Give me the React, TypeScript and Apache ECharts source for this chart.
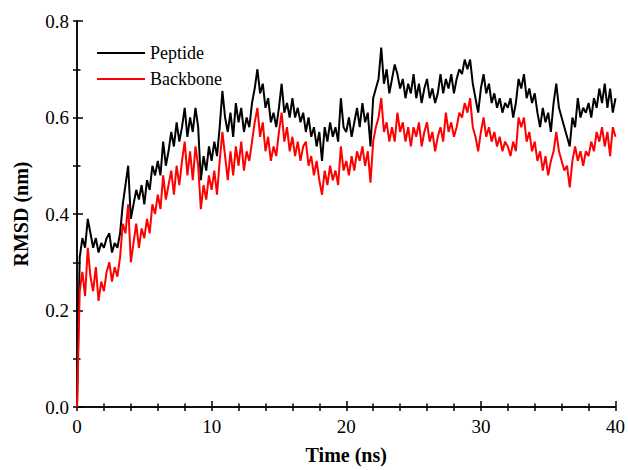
import React, { useEffect, useRef } from "react";
import * as echarts from "echarts";

// Time step between samples (ns)
const timeStep = 0.2;

// Peptide RMSD (nm), sampled every 0.2 ns from 0 to 40 ns
const peptide = [
  0.00, 0.31, 0.35, 0.33, 0.39,
  0.36, 0.33, 0.35, 0.32, 0.34,
  0.33, 0.35, 0.36, 0.32, 0.34,
  0.33, 0.36, 0.42, 0.46, 0.50,
  0.39, 0.42, 0.45, 0.43, 0.46,
  0.42, 0.47, 0.45, 0.50, 0.48,
  0.51, 0.48, 0.55, 0.50, 0.53,
  0.57, 0.54, 0.59, 0.55, 0.58,
  0.62, 0.56, 0.60, 0.57, 0.62,
  0.58, 0.47, 0.52, 0.49, 0.54,
  0.51, 0.55, 0.52, 0.58, 0.655,
  0.60, 0.57, 0.61, 0.56, 0.63,
  0.59, 0.62, 0.57, 0.60, 0.58,
  0.63, 0.66, 0.70, 0.65, 0.67,
  0.62, 0.64, 0.59, 0.61, 0.58,
  0.62, 0.67, 0.61, 0.63, 0.60,
  0.64, 0.60, 0.62, 0.59, 0.61,
  0.57, 0.60, 0.56, 0.58, 0.54,
  0.57, 0.51, 0.58, 0.55, 0.59,
  0.56, 0.58, 0.55, 0.64, 0.58,
  0.57, 0.60, 0.56, 0.59, 0.62,
  0.58, 0.63, 0.59, 0.61, 0.54,
  0.64, 0.66, 0.68, 0.745, 0.67,
  0.70, 0.65, 0.68, 0.71, 0.69,
  0.66, 0.68, 0.64, 0.67, 0.65,
  0.69, 0.64, 0.67, 0.63, 0.66,
  0.68, 0.64, 0.66, 0.63, 0.65,
  0.69, 0.65, 0.68, 0.66, 0.69,
  0.65, 0.68, 0.70, 0.69, 0.72,
  0.70, 0.72, 0.67, 0.64, 0.61,
  0.66, 0.69, 0.65, 0.67, 0.63,
  0.65, 0.62, 0.64, 0.61, 0.63,
  0.62, 0.64, 0.60, 0.63, 0.68,
  0.66, 0.69, 0.64, 0.66, 0.63,
  0.65, 0.61, 0.58, 0.62, 0.59,
  0.61, 0.57, 0.63, 0.67, 0.62,
  0.60, 0.58, 0.56, 0.54, 0.60,
  0.58, 0.64, 0.60, 0.62, 0.61,
  0.63, 0.60, 0.64, 0.62, 0.66,
  0.63, 0.67, 0.62, 0.66, 0.61,
  0.64,
];

// Backbone RMSD (nm), sampled every 0.2 ns from 0 to 40 ns
const backbone = [
  0.00, 0.24, 0.28, 0.23, 0.33,
  0.27, 0.24, 0.29, 0.22, 0.26,
  0.24, 0.28, 0.30, 0.26, 0.29,
  0.27, 0.31, 0.38, 0.36, 0.42,
  0.30, 0.34, 0.38, 0.33, 0.37,
  0.35, 0.39, 0.36, 0.42, 0.40,
  0.44, 0.41, 0.48, 0.43, 0.46,
  0.49, 0.44, 0.50, 0.46, 0.51,
  0.55, 0.48, 0.53, 0.47, 0.54,
  0.50, 0.41, 0.46, 0.43, 0.48,
  0.45, 0.49, 0.44, 0.51, 0.57,
  0.52, 0.47, 0.53, 0.48, 0.54,
  0.50, 0.55, 0.49, 0.53, 0.51,
  0.55, 0.59, 0.62, 0.56, 0.59,
  0.53, 0.56, 0.51, 0.54, 0.52,
  0.57, 0.61, 0.55, 0.58, 0.53,
  0.56, 0.52, 0.55, 0.51, 0.54,
  0.55, 0.50, 0.52, 0.48, 0.51,
  0.47, 0.44, 0.49, 0.46, 0.50,
  0.47, 0.49, 0.46, 0.54, 0.49,
  0.51, 0.48, 0.52, 0.49, 0.53,
  0.51, 0.54, 0.50, 0.53, 0.465,
  0.55, 0.58, 0.60, 0.64, 0.57,
  0.59, 0.55, 0.58, 0.55, 0.61,
  0.57, 0.59, 0.55, 0.58, 0.54,
  0.58, 0.56, 0.59, 0.54, 0.57,
  0.59, 0.55, 0.57, 0.53, 0.56,
  0.58, 0.55, 0.61, 0.57, 0.59,
  0.56, 0.58, 0.61, 0.60, 0.63,
  0.61, 0.64, 0.58, 0.56, 0.53,
  0.57, 0.60, 0.56, 0.58, 0.55,
  0.57, 0.54, 0.56, 0.53, 0.55,
  0.54, 0.52, 0.55, 0.53, 0.60,
  0.58, 0.60, 0.55, 0.57, 0.53,
  0.55, 0.51, 0.53, 0.49, 0.52,
  0.48, 0.51, 0.53, 0.57, 0.53,
  0.51, 0.49, 0.50, 0.455, 0.51,
  0.54, 0.51, 0.53, 0.50, 0.53,
  0.52, 0.55, 0.53, 0.57, 0.55,
  0.58, 0.54, 0.57, 0.52, 0.58,
  0.56,
];

const seriesNames = ["Peptide", "Backbone"];
const seriesColors = ["#000000", "#ff0000"];
const xTicks = [0, 10, 20, 30, 40];
const yTicks = [0.0, 0.2, 0.4, 0.6, 0.8];

const FONT = "Liberation Serif";

export default function App() {
  const ref = useRef<HTMLDivElement>(null);

  useEffect(() => {
    if (!ref.current) return;
    const chart = echarts.init(ref.current, null, { renderer: "svg" });
    const toPairs = (arr: number[]) => arr.map((v, i) => [+(i * timeStep).toFixed(2), v]);

    const axisLine = { show: true, lineStyle: { color: "#000", width: 1.5 } };

    chart.setOption({
      animation: false,
      backgroundColor: "#fff",
      textStyle: { fontFamily: FONT },
      legend: {
        data: seriesNames.map((n) => ({ name: n, icon: "rect" })),
        orient: "vertical",
        left: 92,
        top: 39,
        itemWidth: 48,
        itemHeight: 2,
        itemGap: 8,
        textStyle: { fontFamily: FONT, fontSize: 18, lineHeight: 18, color: "#000" },
      },
      grid: { left: 77, right: 10, top: 21, bottom: 57, containLabel: false },
      xAxis: [
        {
          type: "value",
          min: xTicks[0],
          max: xTicks[xTicks.length - 1],
          interval: 10,
          position: "bottom",
          name: "Time (ns)",
          nameLocation: "middle",
          nameGap: 38,
          nameTextStyle: { fontFamily: FONT, fontSize: 20, fontWeight: "bold", color: "#000" },
          axisLine,
          axisTick: { show: true, inside: true, length: 6, lineStyle: { color: "#000", width: 1.5 } },
          minorTick: { show: true, splitNumber: 5, length: 3.5, lineStyle: { color: "#000", width: 1.5 } },
          axisLabel: { fontFamily: FONT, fontSize: 19, color: "#000", margin: 10 },
          splitLine: { show: false },
        },
        {
          type: "value",
          min: xTicks[0],
          max: xTicks[xTicks.length - 1],
          interval: 2,
          position: "top",
          axisLine,
          axisTick: { show: true, inside: true, length: 4, lineStyle: { color: "#000", width: 1.5 } },
          axisLabel: { show: false },
          splitLine: { show: false },
        },
      ],
      yAxis: [
        {
          type: "value",
          min: yTicks[0],
          max: yTicks[yTicks.length - 1],
          interval: 0.2,
          position: "left",
          name: "RMSD (nm)",
          nameLocation: "middle",
          nameGap: 46,
          nameTextStyle: { fontFamily: FONT, fontSize: 20, fontWeight: "bold", color: "#000" },
          axisLine,
          axisTick: { show: true, inside: true, length: 6, lineStyle: { color: "#000", width: 1.5 } },
          minorTick: { show: true, splitNumber: 2, length: 3.5, lineStyle: { color: "#000", width: 1.5 } },
          axisLabel: {
            fontFamily: FONT,
            fontSize: 19,
            color: "#000",
            margin: 8,
            formatter: (v: number) => v.toFixed(1),
          },
          splitLine: { show: false },
        },
        {
          type: "value",
          min: yTicks[0],
          max: yTicks[yTicks.length - 1],
          interval: 0.1,
          position: "right",
          axisLine,
          axisTick: { show: true, inside: true, length: 4, lineStyle: { color: "#000", width: 1.5 } },
          axisLabel: { show: false },
          splitLine: { show: false },
        },
      ],
      series: [
        {
          name: seriesNames[0],
          type: "line",
          xAxisIndex: 0,
          yAxisIndex: 0,
          data: toPairs(peptide),
          symbol: "none",
          lineStyle: { color: seriesColors[0], width: 2 },
          itemStyle: { color: seriesColors[0] },
          z: 2,
        },
        {
          name: seriesNames[1],
          type: "line",
          xAxisIndex: 0,
          yAxisIndex: 0,
          data: toPairs(backbone),
          symbol: "none",
          lineStyle: { color: seriesColors[1], width: 2 },
          itemStyle: { color: seriesColors[1] },
          z: 3,
        },
      ],
    });

    return () => chart.dispose();
  }, []);

  return (
    <div
      ref={ref}
      style={{ position: "absolute", left: 0, top: 0, width: 628, height: 470 }}
    />
  );
}
